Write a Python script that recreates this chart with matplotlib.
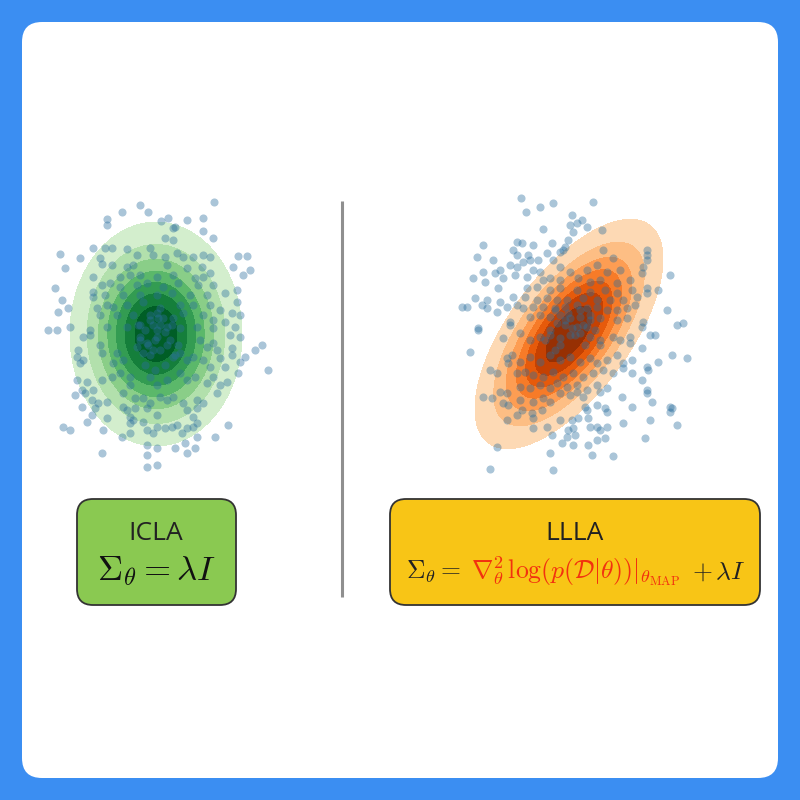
import numpy as np
import matplotlib
matplotlib.use("Agg")
import matplotlib.pyplot as plt
from matplotlib.patches import FancyBboxPatch

plt.rcParams.update({'mathtext.fontset': 'cm', 'font.family': ['Open Sans', 'DejaVu Sans']})

## data (pixel-space positions)
icla_xy = np.array([
    (214,202),(140,205),(122,212),(148,212),(107,219),(107,225),(161,221),(168,218),(187,220),(203,218),
    (203,231),(175,227),(173,228),(213,238),(165,238),(173,240),(60,254),(80,258),(93,248),(105,248),
    (112,248),(127,249),(150,248),(153,255),(137,255),(165,257),(177,253),(183,257),(193,257),(203,255),
    (210,257),(238,256),(247,256),(100,258),(102,264),(112,265),(65,268),(233,267),(250,270),(243,275),
    (127,267),(133,265),(167,265),(187,268),(202,267),(210,273),(140,275),(93,277),(120,277),(130,275),
    (157,277),(173,275),(195,278),(203,277),(55,288),(102,285),(110,283),(120,287),(137,285),(147,283),
    (163,287),(178,283),(198,285),(213,285),(225,293),(237,290),(62,300),(93,292),(93,297),(105,295),
    (123,295),(140,295),(157,295),(172,293),(190,295),(207,295),(237,302),(68,308),(58,312),(97,308),
    (107,305),(113,307),(127,305),(143,302),(160,308),(180,305),(193,305),(210,305),(220,310),(232,313),
    (240,315),(100,315),(117,315),(133,315),(150,315),(157,313),(163,318),(173,318),(183,313),(203,315),
    (213,320),(225,322),(48,330),(57,330),(70,327),(90,330),(107,327),(127,327),(140,325),(153,325),
    (167,327),(157,330),(180,328),(197,327),(213,328),(235,327),(83,337),(90,335),(140,337),(147,343),
    (157,337),(167,345),(153,350),(143,353),(137,347),(200,340),(207,347),(213,343),(230,335),(240,337),
    (78,350),(77,357),(83,360),(80,363),(100,345),(102,353),(117,353),(123,360),(113,363),(173,357),
    (180,353),(187,360),(193,357),(203,360),(210,367),(220,358),(217,350),(232,348),(232,355),(245,357),
    (255,350),(262,345),(240,362),(268,370),(225,367),(238,373),(77,380),(87,382),(93,390),(82,390),
    (102,380),(112,377),(120,373),(130,377),(130,385),(150,377),(167,380),(157,385),(180,373),(187,380),
    (195,377),(207,383),(213,377),(220,385),(227,382),(217,393),(75,395),(85,393),(92,400),(98,403),
    (107,402),(123,393),(123,407),(135,398),(143,398),(150,403),(160,397),(167,400),(173,397),(183,403),
    (197,400),(203,403),(82,407),(95,408),(127,410),(135,408),(130,417),(147,408),(157,415),(187,410),
    (197,408),(193,417),(63,427),(70,430),(87,422),(92,415),(107,418),(130,423),(133,420),(143,422),
    (157,427),(165,428),(172,427),(177,425),(187,428),(193,427),(197,423),(228,425),(103,430),(122,437),
    (130,433),(147,430),(153,433),(182,433),(197,437),(215,437),(147,445),(157,448),(175,448),(185,443),
    (195,448),(102,453),(147,455),(187,453),(147,467),(157,465),
    (150,320),(160,325),(145,330),(165,332),(155,340),(148,345),(170,340),(160,350),(150,355),(175,355),
    (140,340),(165,365),(155,370),(145,365),(172,325),(138,325),(158,318),(178,345),
])

llla_xy = np.array([
    (521,198),(540,207),(553,203),(593,202),(526,212),(572,215),(582,220),(577,223),(570,225),(587,227),
    (573,232),(543,229),(602,230),(483,245),(517,242),(522,243),(533,245),(552,243),(568,240),(565,247),
    (513,250),(517,255),(477,257),(493,260),(528,255),(530,260),(523,262),(538,260),(547,253),(560,252),
    (563,250),(553,260),(603,250),(613,258),(647,250),(647,255),(647,260),(483,272),(495,273),(500,270),
    (510,265),(517,267),(533,270),(540,272),(560,267),(570,272),(587,270),(597,265),(607,272),(620,270),
    (643,267),(642,273),(670,275),(473,278),(485,282),(503,278),(515,275),(527,277),(543,280),(550,278),
    (560,280),(578,278),(590,282),(600,280),(617,283),(630,280),(527,288),(537,287),(550,290),(560,288),
    (577,290),(590,292),(605,290),(617,293),(632,290),(637,297),(647,288),(647,293),(658,290),(498,288),
    (475,298),(487,300),(500,302),(513,297),(525,297),(537,300),(547,298),(557,300),(567,300),(583,298),
    (597,300),(610,300),(623,300),(635,305),(462,307),(467,307),(482,305),(487,308),(507,307),(517,305),
    (523,308),(533,307),(543,307),(555,308),(565,307),(577,305),(587,308),(597,307),(607,310),(617,310),
    (627,308),(667,310),(497,312),(510,322),(510,325),(530,317),(540,315),(550,317),(560,315),(570,318),
    (580,317),(590,320),(600,318),(617,320),(627,318),(643,322),(642,327),(677,325),(683,323),(478,328),
    (555,310),(557,323),(565,325),(577,327),(587,327),
    (503,338),(470,352),(478,330),(520,333),(530,340),(540,337),(550,335),(560,338),(570,335),(580,333),
    (590,337),(600,340),(613,337),(620,340),(630,337),(630,343),(650,335),(655,335),(642,348),(672,355),
    (687,358),(658,362),(507,358),(508,363),(512,355),(520,362),(530,357),(540,362),(550,355),(560,360),
    (570,357),(580,362),(590,358),(597,363),(607,360),(617,355),(623,363),(632,360),(647,367),(648,370),
    (490,370),(497,373),(517,373),(525,372),(533,375),(543,377),(553,372),(563,377),(573,373),(583,377),
    (593,373),(603,370),(613,373),(623,368),(632,373),(642,380),(500,392),(507,393),(483,397),(492,398),
    (520,387),(530,388),(540,385),(550,388),(557,383),(567,387),(577,385),(587,390),(597,385),(600,392),
    (607,388),(647,390),(647,393),(622,397),(503,403),(508,405),(520,400),(533,402),(543,398),(550,402),
    (560,393),(570,395),(577,392),(583,397),(585,407),(587,410),(597,405),(605,408),(632,407),(652,402),
    (670,407),(670,412),(672,408),(522,410),(532,413),(542,410),(507,420),(517,415),(533,418),(547,427),
    (560,420),(572,420),(578,418),(588,418),(607,412),(623,423),(650,420),(677,425),(590,427),(597,427),
    (607,427),(533,428),(568,430),(573,428),(600,430),(552,435),(567,437),(575,435),(562,443),(573,445),
    (597,440),(605,438),(588,445),(645,438),(497,447),(550,453),(592,455),(613,456),(490,469),(553,470),
    (565,320),(572,328),(580,310),(575,335),(585,345),(560,345),(550,330),(590,315),(595,330),(568,313),
    (545,340),(583,325),(555,350),(600,345),
])

# gaussian shapes of the two posteriors: centre, sigma along / across the main axis, tilt (deg)
icla_mean, icla_sig, icla_tilt = (156, 334), (40, 52), 0.0
llla_mean, llla_sig, llla_tilt = (569, 334), (63, 28), 53.5

labels = ["ICLA", "LLLA"]

bg_blue = "#3b8ef2"
green_box = "#8ac951"
yellow_box = "#f8c516"
formula_red = "#f2310f"
point_color = "#2b6f9e"

fig = plt.figure(figsize=(8, 8), dpi=100)
fig.patch.set_facecolor(bg_blue)
ax = fig.add_axes([0, 0, 1, 1])
ax.set(xlim=(0, 800), ylim=(800, 0))
ax.axis("off")

ax.add_patch(FancyBboxPatch((42, 42), 716, 716, boxstyle="round,pad=20,rounding_size=20",
                            facecolor="white", edgecolor="none", zorder=0))


def gauss_fill(mean, sig, tilt, cmap, r_out=2.15, n=7):
    gx, gy = np.meshgrid(np.linspace(mean[0] - 200, mean[0] + 200, 500),
                         np.linspace(mean[1] - 200, mean[1] + 200, 500))
    t = np.deg2rad(tilt)
    dx, dy = gx - mean[0], -(gy - mean[1])
    u = dx * np.cos(t) + dy * np.sin(t)
    v = -dx * np.sin(t) + dy * np.cos(t)
    dens = np.exp(-0.5 * ((u / sig[0]) ** 2 + (v / sig[1]) ** 2))
    levels = np.linspace(np.exp(-r_out ** 2 / 2), 1.0, n + 1)
    cols = plt.get_cmap(cmap)(np.linspace(0.2, 0.92, n))
    ax.contourf(gx, gy, dens, levels=levels, colors=cols, zorder=1)


gauss_fill(icla_mean, icla_sig, icla_tilt, "Greens")
gauss_fill(llla_mean, llla_sig, llla_tilt, "Oranges")

for pts in (icla_xy, llla_xy):
    ax.scatter(pts[:, 0], pts[:, 1], s=34, color=point_color, alpha=0.4, linewidths=0, zorder=2)

# divider
ax.plot([342, 342], [201, 597], color="#8f8f8f", lw=2.2, solid_capstyle="butt", zorder=2)

# label boxes
ax.add_patch(FancyBboxPatch((90, 512), 133, 80, boxstyle="round,pad=13,rounding_size=16",
                            facecolor=green_box, edgecolor="#333333", lw=1.3, zorder=2))
ax.add_patch(FancyBboxPatch((403, 512), 344, 80, boxstyle="round,pad=13,rounding_size=16",
                            facecolor=yellow_box, edgecolor="#333333", lw=1.3, zorder=2))

ax.text(156, 533, labels[0], ha="center", va="center", fontsize=19, color="#222222", zorder=3)
ax.text(157, 571, r"$\Sigma_\theta = \lambda I$", ha="center", va="center", fontsize=25,
        color="#111111", zorder=3)
ax.text(575, 534, labels[1], ha="center", va="center", fontsize=19, color="#222222", zorder=3)

# multicoloured formula, pieces laid out left to right on one baseline
pieces = [(r"$\Sigma_\theta =$", "#222222"),
          (r"$\nabla^2_\theta\,\log(p(\mathcal{D}|\theta))|_{\theta_{\mathrm{MAP}}}$", formula_red),
          (r"$+\,\lambda I$", "#222222")]
gaps = [10, 12]
fig.canvas.draw()
renderer = fig.canvas.get_renderer()
inv = ax.transData.inverted()
arts, widths = [], []
for s, c in pieces:
    t = ax.text(0, 579, s, ha="left", va="baseline", fontsize=18.5, color=c, zorder=3)
    bb = t.get_window_extent(renderer)
    x0, _ = inv.transform((bb.x0, bb.y0))
    x1, _ = inv.transform((bb.x1, bb.y0))
    arts.append(t)
    widths.append(x1 - x0)
x = 576 - (sum(widths) + sum(gaps)) / 2
for t, w, g in zip(arts, widths, gaps + [0]):
    t.set_x(x)
    x += w + g

fig.savefig("out.png", dpi=100, facecolor=fig.get_facecolor())
